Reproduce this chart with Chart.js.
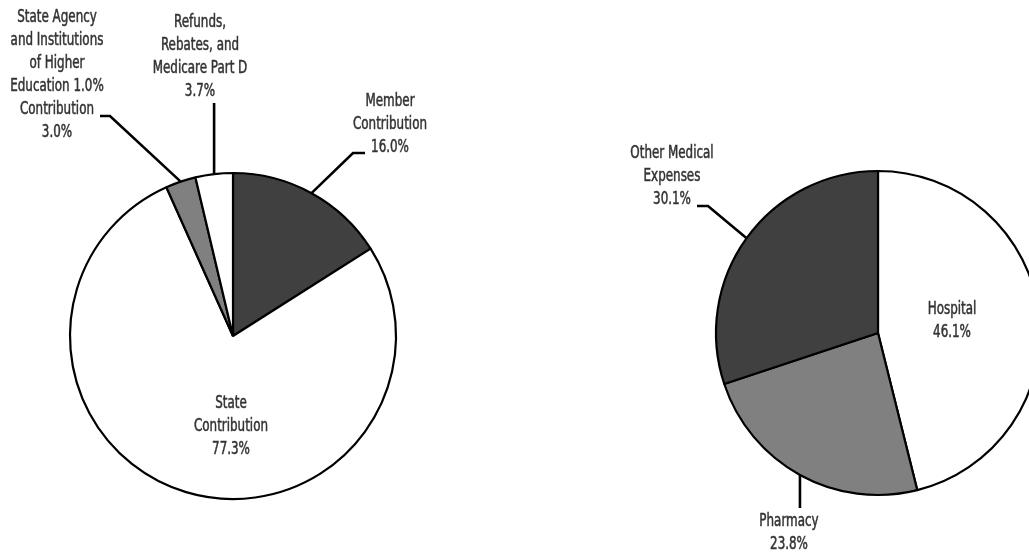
<!DOCTYPE html>
<html>
<head>
<meta charset="utf-8">
<script src="https://cdn.jsdelivr.net/npm/chart.js@4/dist/chart.umd.min.js"></script>
<style>
  html, body { margin: 0; padding: 0; background: #fff; overflow: hidden; }
  body { width: 1029px; height: 552px; position: relative; }
  canvas { position: absolute; top: 0; }
  #revenueChart { left: 0; }
  #expenseChart { left: 560px; }
</style>
</head>
<body>
<canvas id="revenueChart" width="466" height="552"></canvas>
<canvas id="expenseChart" width="636" height="552"></canvas>
<script>
// revenue sources (left pie)
var revenueNames = [
  ['Member', 'Contribution'],
  ['State', 'Contribution'],
  ['State Agency', 'and Institutions', 'of Higher', 'Education 1.0%', 'Contribution'],
  ['Refunds,', 'Rebates, and', 'Medicare Part D']
];
var revenueValues = [16.0, 77.3, 3.0, 3.7];

// expense categories (right pie)
var expenseNames = [
  ['Hospital'],
  ['Pharmacy'],
  ['Other Medical', 'Expenses']
];
var expenseValues = [46.1, 23.8, 30.1];

var DARK = '#404040', GRAY = '#808080', WHITE = '#ffffff';
var FONT = '17px "DejaVu Sans Condensed", "DejaVu Sans", sans-serif';
var SQUEEZE = 0.78;   // narrow the glyphs horizontally
var LINE_H = 23;

// label placement, offsets from the pie centre
// elbow: where the leader bends, end: where the short tick stops
var revenueLabelPos = [
  { x: 157, y: -234, elbow: [120, -183], end: [132, -183] },
  { x: -2, y: 68, inside: true },
  { x: -176, y: -318, elbow: [-123, -220], end: [-133, -220] },
  { x: -33, y: -313, vertical: -233 }
];
var expenseLabelPos = [
  { x: 74, y: -23, inside: true },
  { x: -89, y: 189, vertical: 175 },
  { x: -206, y: -179, elbow: [-170, -127], end: [-181, -127] }
];

var sliceLabels = {
  id: 'sliceLabels',
  afterDraw: function(chart, args, opts) {
    var ctx = chart.ctx;
    var meta = chart.getDatasetMeta(0);
    var values = chart.data.datasets[0].data;
    ctx.save();
    meta.data.forEach(function(arc, i) {
      var p = arc.getProps(['x', 'y', 'startAngle', 'endAngle', 'outerRadius'], true);
      var cx = p.x, cy = p.y;
      var mid = (p.startAngle + p.endAngle) / 2;
      var ex = cx + Math.cos(mid) * p.outerRadius;
      var ey = cy + Math.sin(mid) * p.outerRadius;
      var pos = opts.positions[i];

      ctx.strokeStyle = '#000';
      ctx.lineWidth = 2.6;
      if (pos.elbow) {
        ctx.beginPath();
        ctx.moveTo(ex, ey);
        ctx.lineTo(cx + pos.elbow[0], cy + pos.elbow[1]);
        ctx.lineTo(cx + pos.end[0], cy + pos.end[1]);
        ctx.stroke();
      } else if (pos.vertical !== undefined) {
        ctx.beginPath();
        ctx.moveTo(ex, ey);
        ctx.lineTo(ex, cy + pos.vertical);
        ctx.stroke();
      }

      var lines = opts.names[i].concat([values[i].toFixed(1) + '%']);
      ctx.fillStyle = '#333';
      ctx.strokeStyle = '#333';
      ctx.lineWidth = 0.5;
      ctx.font = FONT;
      ctx.textAlign = 'center';
      ctx.textBaseline = 'middle';
      lines.forEach(function(t, k) {
        ctx.save();
        ctx.translate(cx + pos.x, cy + pos.y + k * LINE_H);
        ctx.scale(SQUEEZE, 1);
        ctx.fillText(t, 0, 0);
        ctx.strokeText(t, 0, 0);
        ctx.restore();
      });
    });
    ctx.restore();
  }
};

function makePie(id, names, values, colors, radius, padTop, positions) {
  return new Chart(document.getElementById(id), {
    type: 'pie',
    data: {
      labels: names.map(function(n) { return n.join(' '); }),
      datasets: [{
        data: values,
        backgroundColor: colors,
        borderColor: '#000',
        borderWidth: 2.2,
        radius: radius
      }]
    },
    options: {
      responsive: false,
      animation: false,
      layout: { padding: { top: padTop } },
      plugins: {
        legend: { display: false },
        tooltip: { enabled: false },
        sliceLabels: { names: names, positions: positions }
      }
    },
    plugins: [sliceLabels]
  });
}

makePie('revenueChart', revenueNames, revenueValues, [DARK, WHITE, GRAY, WHITE], 163, 120, revenueLabelPos);
makePie('expenseChart', expenseNames, expenseValues, [WHITE, GRAY, DARK], 162, 114, expenseLabelPos);
</script>
</body>
</html>
